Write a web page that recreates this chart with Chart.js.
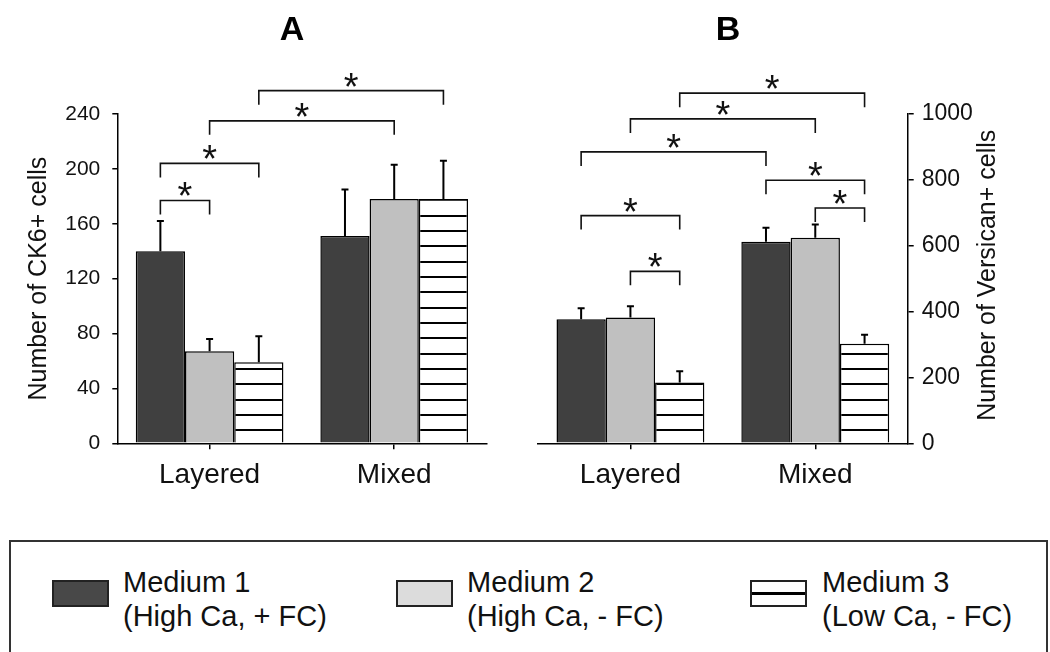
<!DOCTYPE html>
<html>
<head>
<meta charset="utf-8">
<script src="https://cdn.jsdelivr.net/npm/chart.js@4/dist/chart.umd.min.js"></script>
<style>
  html, body { margin: 0; padding: 0; background: #fff; }
  body { width: 1050px; height: 652px; overflow: hidden; position: relative; font-family: "Liberation Sans", Arial, sans-serif; }
  .panel { position: absolute; top: 0; height: 520px; }
  #legendBox { position: absolute; left: 9px; top: 540px; width: 1035px; height: 140px; border: 2px solid #333; box-sizing: content-box; }
  .sw { position: absolute; top: 580px; width: 53px; height: 23px; border: 2px solid #222; }
  .lt { position: absolute; top: 565px; font-size: 29px; line-height: 34px; color: #111; white-space: nowrap; }
</style>
</head>
<body>
<div class="panel" style="left:0;width:520px"><canvas id="chartA"></canvas></div>
<div class="panel" style="left:520px;width:530px"><canvas id="chartB"></canvas></div>
<div id="legendBox"></div>
<div id="legendItems"></div>
<script>
// ---------- data ----------
const categories = ['Layered', 'Mixed'];
const seriesNames = ['Medium 1', 'Medium 2', 'Medium 3'];
const seriesNotes = ['(High Ca, + FC)', '(High Ca, - FC)', '(Low Ca, - FC)'];

const ck6Medium1 = [140, 151];
const ck6Medium2 = [67, 178];
const ck6Medium3 = [59, 178];
const ck6Err1 = [22, 34];
const ck6Err2 = [9, 25];
const ck6Err3 = [19, 28];
const ck6Ticks = [0, 40, 80, 120, 160, 200, 240];

const versMedium1 = [376, 611];
const versMedium2 = [381, 623];
const versMedium3 = [184, 302];
const versErr1 = [33, 42];
const versErr2 = [34, 40];
const versErr3 = [34, 27];
const versTicks = [0, 200, 400, 600, 800, 1000];

// significance brackets: [category1, series1, category2, series2, level]
const ck6Brackets = [
  [0, 0, 0, 1, 177],
  [0, 0, 0, 2, 204],
  [0, 1, 1, 1, 235],
  [0, 2, 1, 2, 257]
];
const versBrackets = [
  [0, 1, 0, 2, 521],
  [0, 0, 0, 2, 690],
  [1, 1, 1, 2, 713],
  [1, 0, 1, 2, 797],
  [0, 0, 1, 0, 883],
  [0, 1, 1, 1, 983],
  [0, 2, 1, 2, 1061]
];

// ---------- styles ----------
const FONT = '"Liberation Sans", Arial, sans-serif';
const DARK = '#404040';
const GRAY = '#c0c0c0';

function makeHatch() {
  const c = document.createElement('canvas');
  c.width = 8; c.height = 46;
  const g = c.getContext('2d');
  g.fillStyle = '#fff'; g.fillRect(0, 0, 8, 46);
  g.fillStyle = '#000';
  [0, 15, 31].forEach(y => g.fillRect(0, y, 8, 2));
  return g.createPattern(c, 'repeat');
}
const hatch = makeHatch();

const annotPlugin = {
  id: 'annot',
  afterDatasetsDraw(chart, args, opts) {
    const ctx = chart.ctx;
    const y = chart.scales.y;
    ctx.save();
    ctx.strokeStyle = '#000';
    // error bars
    ctx.lineWidth = 2;
    opts.errors.forEach((errs, ds) => {
      const meta = chart.getDatasetMeta(ds);
      meta.data.forEach((bar, i) => {
        const v = chart.data.datasets[ds].data[i];
        const yt = y.getPixelForValue(v + errs[i]);
        ctx.beginPath();
        ctx.moveTo(bar.x, bar.y);
        ctx.lineTo(bar.x, yt);
        ctx.moveTo(bar.x - 3.5, yt);
        ctx.lineTo(bar.x + 3.5, yt);
        ctx.stroke();
      });
    });
    // brackets
    ctx.lineWidth = 1.6;
    ctx.strokeStyle = '#111';
    ctx.fillStyle = '#111';
    ctx.font = '38px ' + FONT;
    ctx.textAlign = 'center';
    ctx.textBaseline = 'alphabetic';
    const m = ctx.measureText('*');
    const starShift = (m.actualBoundingBoxAscent - m.actualBoundingBoxDescent) / 2;
    opts.brackets.forEach(([c1, s1, c2, s2, lvl]) => {
      const x1 = chart.getDatasetMeta(s1).data[c1].x;
      const x2 = chart.getDatasetMeta(s2).data[c2].x;
      const yl = y.getPixelForValue(lvl);
      ctx.beginPath();
      ctx.moveTo(x1, yl + 14);
      ctx.lineTo(x1, yl);
      ctx.lineTo(x2, yl);
      ctx.lineTo(x2, yl + 14);
      ctx.stroke();
      ctx.fillText('*', (x1 + x2) / 2, yl - 11 + starShift);
    });
    ctx.restore();
  },
  afterDraw(chart, args, opts) {
    const ctx = chart.ctx;
    ctx.save();
    ctx.fillStyle = '#000';
    ctx.font = 'bold 34px ' + FONT;
    ctx.textAlign = 'center';
    ctx.textBaseline = 'alphabetic';
    ctx.fillText(opts.panel, opts.panelX, 40);
    if (opts.sideTitle) {
      ctx.fillStyle = '#111';
      ctx.font = '25px ' + FONT;
      ctx.translate(opts.sideX, (chart.chartArea.top + chart.chartArea.bottom) / 2 - 3);
      ctx.rotate(-Math.PI / 2);
      ctx.textBaseline = 'middle';
      ctx.fillText(opts.sideTitle, 0, 0);
    }
    ctx.restore();
  }
};

function datasets(d1, d2, d3) {
  const common = { borderColor: '#000', borderWidth: 1.5, categoryPercentage: 0.8, barPercentage: 1.0 };
  return [
    Object.assign({ label: seriesNames[0], data: d1, backgroundColor: DARK }, common),
    Object.assign({ label: seriesNames[1], data: d2, backgroundColor: GRAY }, common),
    Object.assign({ label: seriesNames[2], data: d3, backgroundColor: hatch }, common)
  ];
}

function xScale() {
  return {
    type: 'category',
    offset: true,
    grid: { offset: false, drawOnChartArea: false, drawTicks: true, tickLength: 6, color: '#000', lineWidth: 1.5 },
    border: { color: '#000', width: 1.5 },
    ticks: { font: { family: FONT, size: 28 }, color: '#111', padding: 9, maxRotation: 0, autoSkip: false },
    afterFit(s) { s.height = 520 - 443.3; }
  };
}

new Chart(document.getElementById('chartA'), {
  type: 'bar',
  data: { labels: categories, datasets: datasets(ck6Medium1, ck6Medium2, ck6Medium3) },
  plugins: [annotPlugin],
  options: {
    responsive: true, maintainAspectRatio: false, animation: false, devicePixelRatio: 1,
    layout: { padding: { left: 10, right: 33.5, top: 114, bottom: 0 } },
    plugins: {
      legend: { display: false }, tooltip: { enabled: false },
      annot: { errors: [ck6Err1, ck6Err2, ck6Err3], brackets: ck6Brackets, panel: 'A', panelX: 292 }
    },
    scales: {
      x: xScale(),
      y: {
        position: 'left', min: 0, max: 240,
        afterBuildTicks(s) { s.ticks = ck6Ticks.map(v => ({ value: v })); },
        grid: { drawOnChartArea: false, tickLength: 5, color: '#000', lineWidth: 1.5 },
        border: { color: '#000', width: 1.5 },
        ticks: { font: { family: FONT, size: 21 }, color: '#111', padding: 12, callback: v => String(v) },
        title: { display: true, text: 'Number of CK6+ cells', color: '#111', font: { family: FONT, size: 25 }, padding: { top: 14, bottom: 0 } },
        afterFit(s) { s.width = 107.3; }
      }
    }
  }
});

new Chart(document.getElementById('chartB'), {
  type: 'bar',
  data: { labels: categories, datasets: datasets(versMedium1, versMedium2, versMedium3) },
  plugins: [annotPlugin],
  options: {
    responsive: true, maintainAspectRatio: false, animation: false, devicePixelRatio: 1,
    layout: { padding: { left: 18, right: 0, top: 113.3, bottom: 0 } },
    plugins: {
      legend: { display: false }, tooltip: { enabled: false },
      annot: { errors: [versErr1, versErr2, versErr3], brackets: versBrackets, panel: 'B', panelX: 208,
               sideTitle: 'Number of Versican+ cells', sideX: 468 }
    },
    scales: {
      x: xScale(),
      y: {
        position: 'right', min: 0, max: 1000,
        afterBuildTicks(s) { s.ticks = versTicks.map(v => ({ value: v })); },
        grid: { drawOnChartArea: false, tickLength: 6, color: '#000', lineWidth: 1.5 },
        border: { color: '#000', width: 1.5 },
        ticks: { font: { family: FONT, size: 23 }, color: '#111', padding: 8, callback: v => String(v) },
        afterFit(s) { s.width = 530 - 387.7; }
      }
    }
  }
});

// ---------- legend (HTML) ----------
const swatchLeft = [52, 396, 750];
const textLeft = [123, 467, 822];
const items = document.getElementById('legendItems');
seriesNames.forEach((name, i) => {
  const sw = document.createElement('div');
  sw.className = 'sw';
  sw.style.left = swatchLeft[i] + 'px';
  if (i === 0) sw.style.background = '#484848';
  else if (i === 1) sw.style.background = '#dcdcdc';
  else {
    sw.style.background = '#fff';
    const mid = document.createElement('div');
    mid.style.cssText = 'position:absolute;left:0;right:0;top:10px;height:3px;background:#000';
    sw.appendChild(mid);
  }
  items.appendChild(sw);
  const t = document.createElement('div');
  t.className = 'lt';
  t.style.left = textLeft[i] + 'px';
  t.innerHTML = name + '<br>' + seriesNotes[i];
  items.appendChild(t);
});
</script>
</body>
</html>
